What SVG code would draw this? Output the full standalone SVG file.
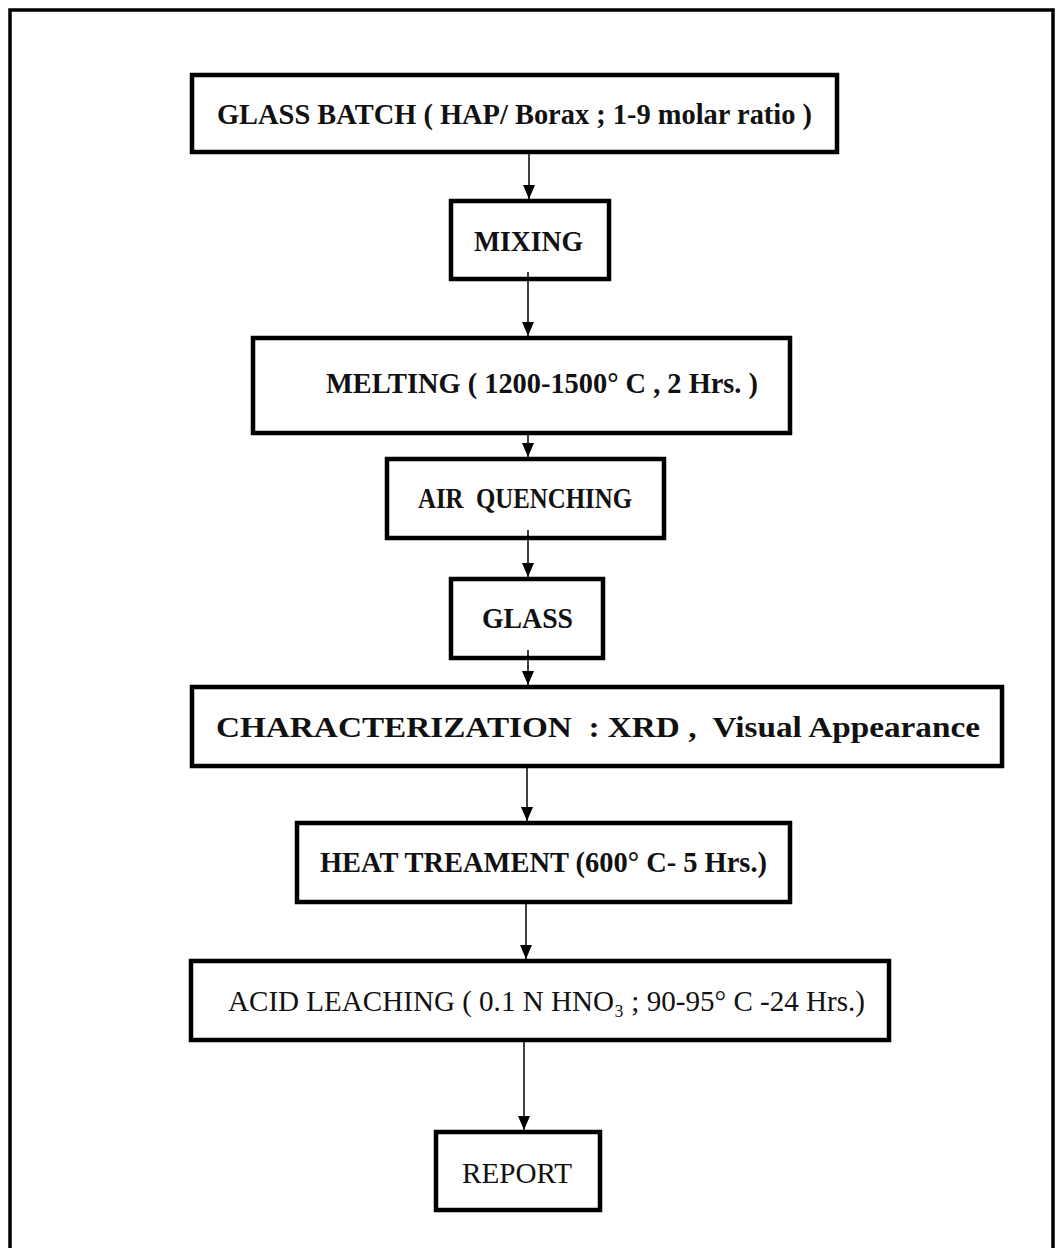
<svg xmlns="http://www.w3.org/2000/svg" width="1057" height="1248" viewBox="0 0 1057 1248">
<defs>
<style>
.box{fill:#fff;stroke:#000;stroke-width:4.5}
.t{font-family:"Liberation Serif","Times New Roman",serif;font-size:30px;font-weight:bold;fill:#111}
.r{font-weight:normal}
.c{stroke:#000;stroke-width:1.5;fill:none}
</style>
<marker id="ah" viewBox="0 0 14 12" refX="14" refY="6" markerWidth="14" markerHeight="12" markerUnits="userSpaceOnUse" orient="auto">
<path d="M0,0 L14,6 L0,12 Z" fill="#000"/>
</marker>
</defs>
<rect width="1057" height="1248" fill="#fff"/>
<path id="frame" d="M10,1250 V10 H1053 V1250" fill="none" stroke="#000" stroke-width="3.5"/>

<g id="n1"><rect class="box" x="192" y="75" width="645" height="77"/>
<text class="t" x="217" y="124" textLength="595" lengthAdjust="spacingAndGlyphs">GLASS BATCH ( HAP/ Borax ; 1-9 molar ratio )</text></g>

<g id="n2"><rect class="box" x="451" y="201" width="158" height="78"/>
<text class="t" x="474" y="251" textLength="109" lengthAdjust="spacingAndGlyphs">MIXING</text></g>

<g id="n3"><rect class="box" x="253" y="338" width="537" height="95"/>
<text class="t" x="326" y="393" textLength="432" lengthAdjust="spacingAndGlyphs">MELTING ( 1200-1500° C , 2 Hrs. )</text></g>

<g id="n4"><rect class="box" x="387" y="459" width="277" height="79"/>
<text class="t" x="418" y="508" xml:space="preserve" textLength="214" lengthAdjust="spacingAndGlyphs">AIR  QUENCHING</text></g>

<g id="n5"><rect class="box" x="451" y="579" width="152" height="79"/>
<text class="t" x="482" y="628" textLength="91" lengthAdjust="spacingAndGlyphs">GLASS</text></g>

<g id="n6"><rect class="box" x="192" y="687" width="810" height="79"/>
<text class="t" x="216" y="737" xml:space="preserve" textLength="764" lengthAdjust="spacingAndGlyphs">CHARACTERIZATION  : XRD ,  Visual Appearance</text></g>

<g id="n7"><rect class="box" x="297" y="823" width="493" height="79"/>
<text class="t" x="320" y="872" textLength="447" lengthAdjust="spacingAndGlyphs">HEAT TREAMENT (600° C- 5 Hrs.)</text></g>

<g id="n8"><rect class="box" x="191" y="961" width="698" height="79"/>
<text class="t r" x="228" y="1011" textLength="637" lengthAdjust="spacingAndGlyphs">ACID LEACHING ( 0.1 N HNO₃ ; 90-95° C -24 Hrs.)</text></g>

<g id="n9"><rect class="box" x="436" y="1132" width="164" height="78"/>
<text class="t r" x="462" y="1183" textLength="110" lengthAdjust="spacingAndGlyphs">REPORT</text></g>

<g id="connectors">
<line class="c" x1="529" y1="154" x2="529" y2="199" marker-end="url(#ah)"/>
<line class="c" x1="528" y1="272" x2="528" y2="336" marker-end="url(#ah)"/>
<line class="c" x1="528" y1="435" x2="528" y2="457" marker-end="url(#ah)"/>
<line class="c" x1="528" y1="530" x2="528" y2="577" marker-end="url(#ah)"/>
<line class="c" x1="528" y1="650" x2="528" y2="685" marker-end="url(#ah)"/>
<line class="c" x1="527" y1="768" x2="527" y2="821" marker-end="url(#ah)"/>
<line class="c" x1="526" y1="904" x2="526" y2="959" marker-end="url(#ah)"/>
<line class="c" x1="524" y1="1042" x2="524" y2="1130" marker-end="url(#ah)"/>
</g>
</svg>
